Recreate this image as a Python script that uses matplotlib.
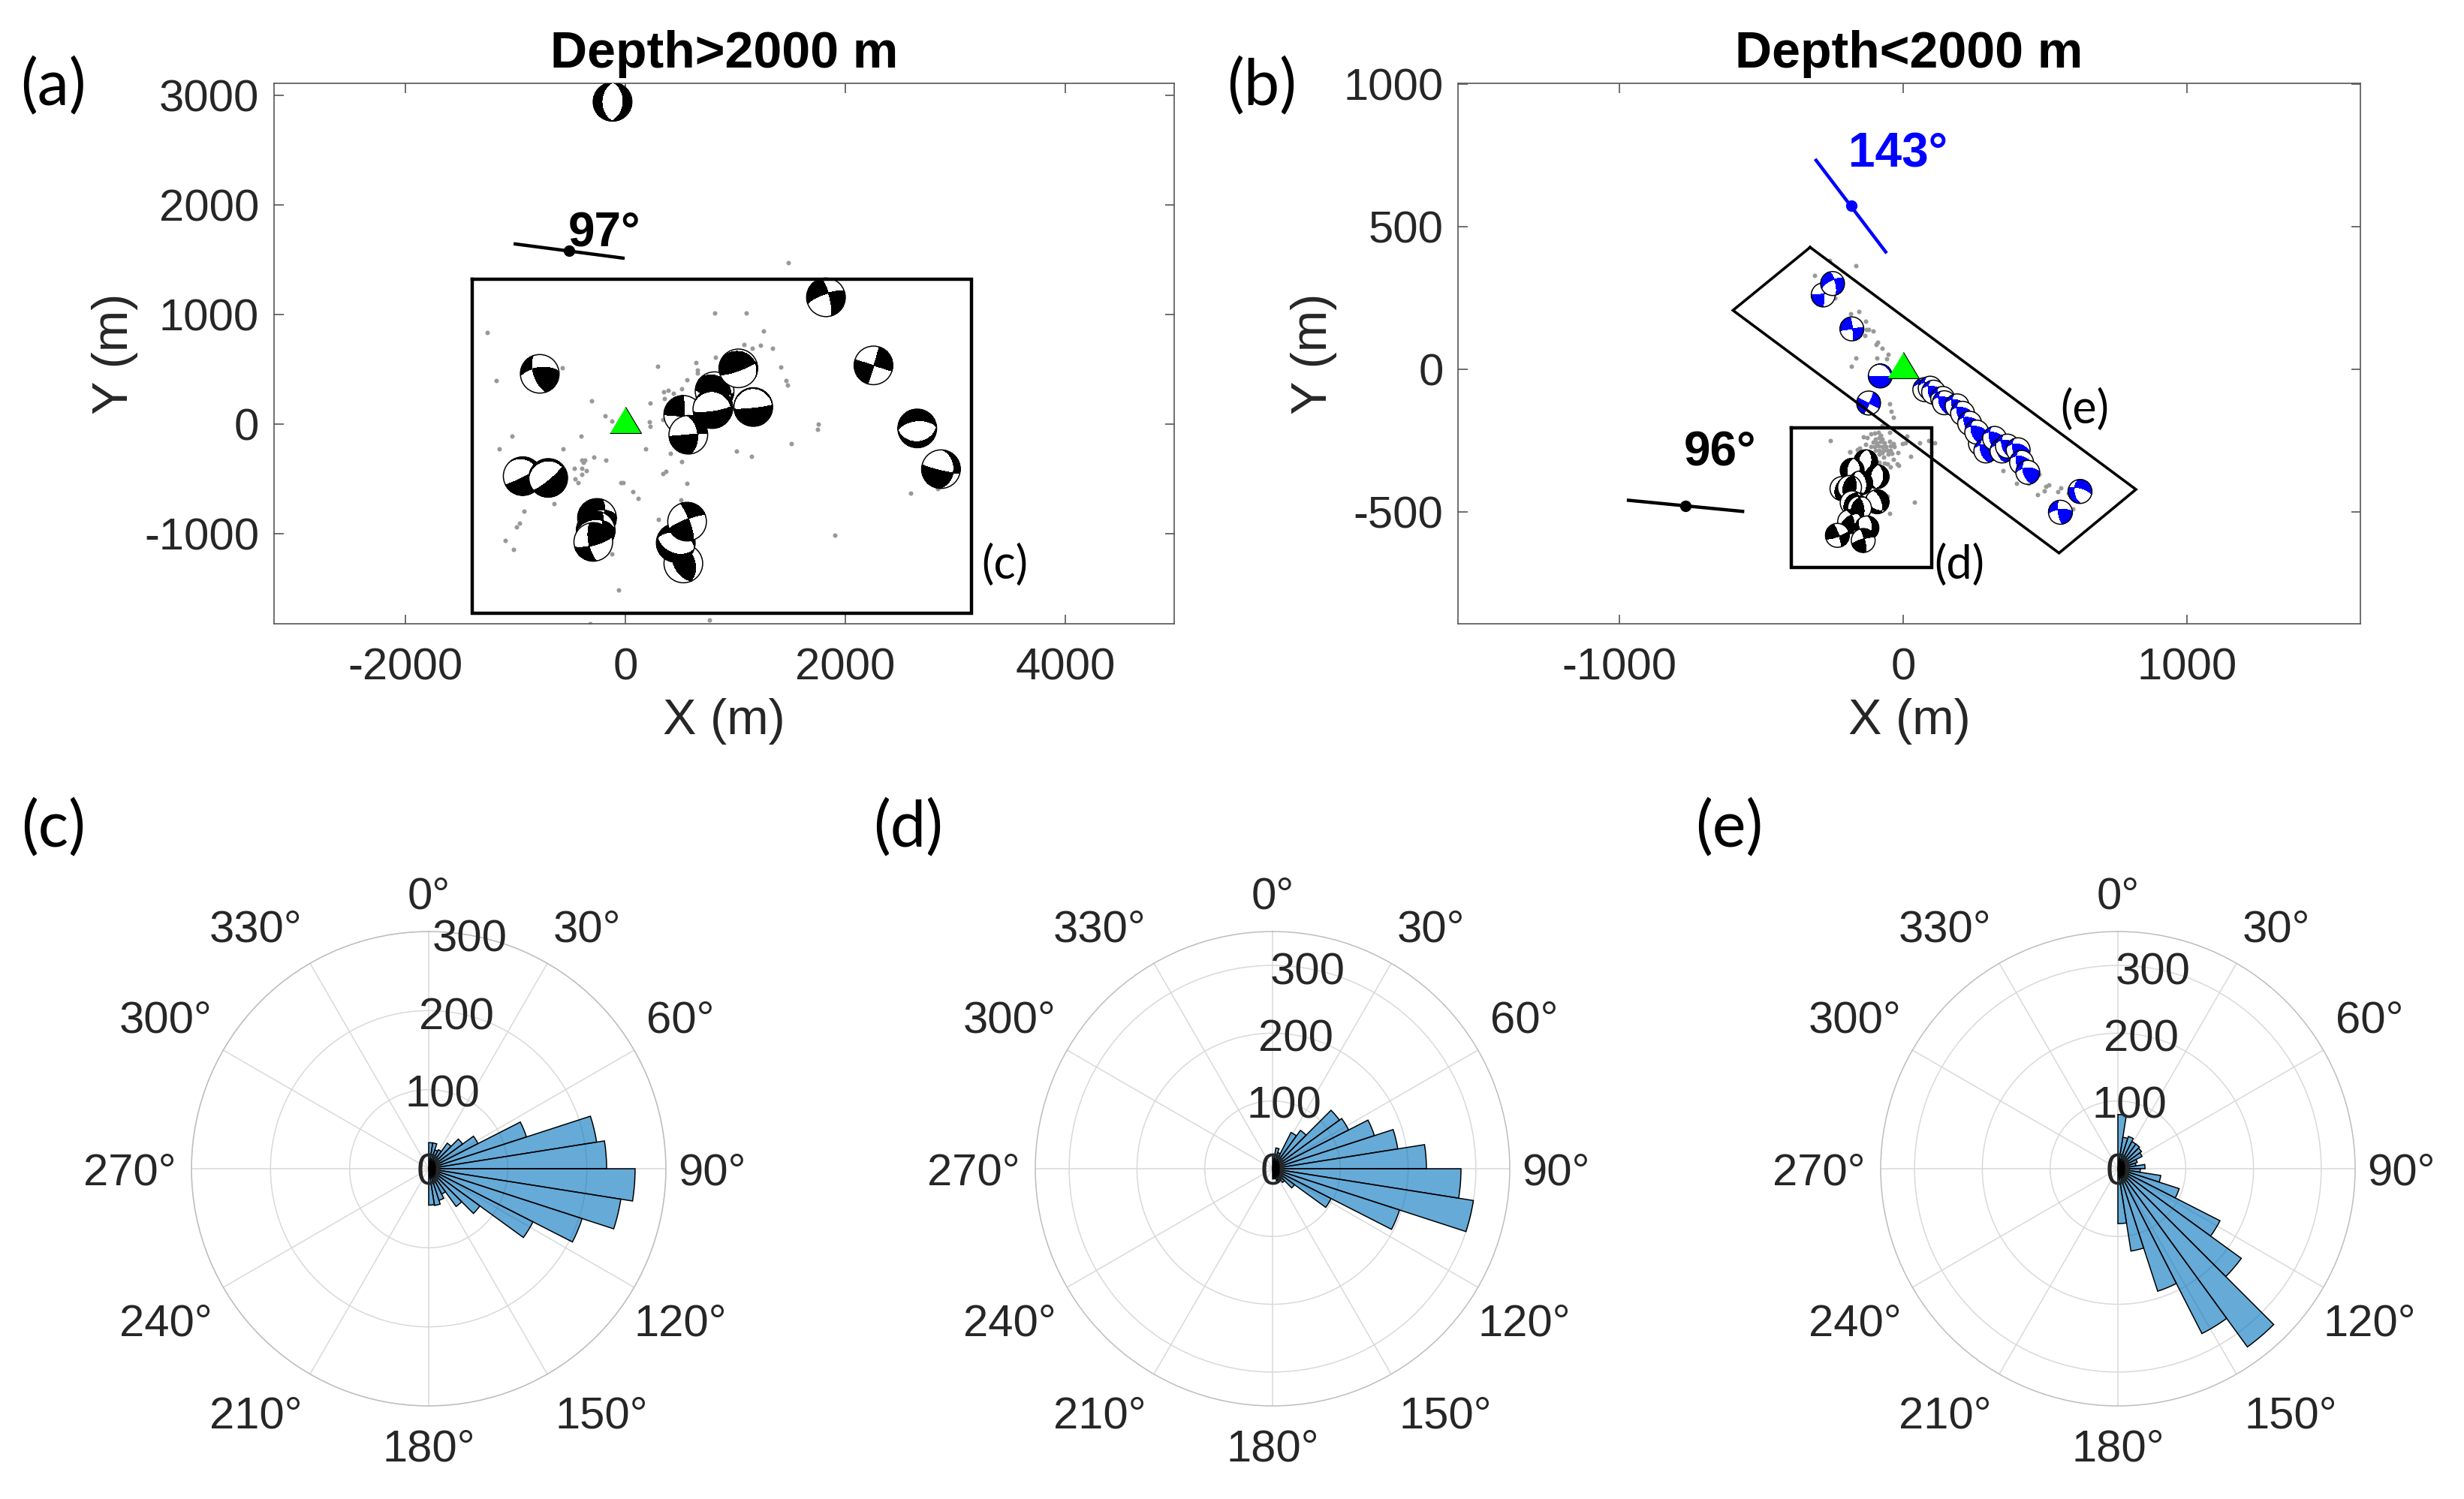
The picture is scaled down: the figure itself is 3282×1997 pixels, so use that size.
import numpy as np
import matplotlib
matplotlib.use('Agg')
import matplotlib.pyplot as plt
from matplotlib.patches import Circle

W, H = 3282, 1997
plt.rcParams['font.family'] = ['Liberation Sans', 'DejaVu Sans']
plt.rcParams['axes.unicode_minus'] = False

# ----- events: x, y, strike, dip, rake (back to front)
deep_x = [-118, -935, -703, -259, -271, -293, 526, 457, 560, 525, 571, 810, 1026, 800, 790, 1162, 1823, 2255, 2653, 2869, -780]
deep_y = [2941, -475, -491, -856, -970, -1075, -1272, -1084, -890, 85, -97, 301, 509, 150, 137, 156, 1157, 536, -39, -411, 459]
deep_s = [3, 63, 50, 15, 20, 170, 340, 110, 340, 0, 355, 95, 70, 82, 82, 84, 345, 17, 85, 5, 160]
deep_d = [45, 85, 80, 60, 70, 70, 40, 45, 80, 85, 50, 70, 80, 80, 80, 85, 75, 88, 32, 35, 65]
deep_r = [-88, -105, -98, -140, -130, 15, 95, -85, 10, 175, 0, 75, 80, -95, -95, -92, -165, 0, -90, -10, 150]

gray_a_x = [-1258, -574, -1176, -305, 291, 641, 653, 653, 819, 1078, 1151, 1228, 557, 509, 346, 391, 439, 352, 223, -187,
            -121, 214, 225, 341, -403, -1033, -1145, -571, 182, 409, 1010, 1149, 509, -291, -182, -396, -371, -385, -467, -396,
            -353, -398, -460, -428, 366, 341, -44, -25, 559, 68, 116, 507, -651, -924, 302, -967, -988, -1092, -1017, -123,
            -66, -321, 762, 812, 1097, 1256, 1338, 1411, 1463, 1474, 1754, 1747, 1509, 1907, 2591, 2842, 1481]
gray_a_y = [835, 514, 397, 212, 530, 559, 491, 463, 612, 728, 692, 721, 402, 324, 294, 306, 278, 235, 189, 73,
            25, 18, -23, 41, -107, -112, -224, -224, -226, -265, -249, -297, -340, -304, -331, -327, -331, -347, -404, -404,
            -422, -457, -498, -532, -429, -450, -532, -532, -543, -614, -676, -690, -726, -792, -870, -902, -938, -1064, -1144, -1183,
            -1516, -1822, -1790, 1011, 1014, 847, 694, 518, 400, 356, -1, -50, -176, -1014, -630, -587, 1473]

shallow_x = [-132, -180, -92, -216, -150, -189, -92, -180, -154, -189, -128, -232, -141]
shallow_y = [-324, -354, -376, -418, -398, -414, -464, -468, -486, -534, -556, -582, -600]
shallow_s = [10, 10, 5, 15, 350, 15, 340, 20, 350, 345, 5, 340, 345]
shallow_d = [50, 35, 45, 45, 50, 45, 60, 50, 60, 60, 55, 80, 80]
shallow_r = [-85, -85, -90, 85, -80, 90, -70, 80, 70, 40, -60, 170, 10]

band_x = [-282, -249, -181, -81, -122, 76, 95, 107, 139, 145, 190, 209, 234, 272, 259, 291, 322, 348, 367, 405, 417, 439, 623, 554]
band_y = [261, 301, 142, -23, -118, -71, -66, -80, -102, -117, -128, -154, -189, -260, -220, -286, -242, -286, -269, -282, -326, -361, -428, -501]
band_s = [0, 345, 352, 90, 25, 160, 160, 165, 160, 160, 165, 160, 160, 165, 160, 160, 165, 160, 160, 160, 165, 160, 175, 170]
band_d = [85, 70, 85, 85, 85, 55, 55, 55, 55, 55, 55, 55, 55, 55, 55, 55, 55, 55, 55, 55, 55, 60, 50, 75]
band_r = [5, -155, 180, -100, 0, 130, 130, 130, 130, 130, 130, 130, 130, 130, 130, 130, 130, 130, 130, 130, 130, 145, -30, 160]

gray_b_x = [-260, -166, -312, -242, -186, -156, -132, -131, -121, -106, -135, -90, -96, -73, -53, -93, -59, -166, -182, -48,
            -42, -34, -75, -48, 13, 57, 89, 111, -2, 7, -257, -188, 25, -19, 353,
            -141, -128, -115, -101, -88, -79, -97, -84, -73, -106, -92, -79, -66, -48, -35, -115, -101, -88, -75, -62,
            -44, -31, -132, -97, -84, -70, -57, -44, -40, -53, -75, -85, -154, -161, -70, -84, -66, -55, -44, -35, -17, -22,
            -187, 40, -48, -55, 398, 441, 474, 497, 503, 512, 545, 556, 479, 582, 598]
gray_b_y = [382, 363, 329, 249, 196, 202, 168, 139, 139, 134, 118, 95, 86, 74, 54, 41, 36, 40, 11, -122,
            -146, -169, -196, -221, -233, -258, -250, -259, -260, -258, -250, -289, -306, -293, -356,
            -237, -238, -227, -224, -221, -231, -245, -240, -245, -256, -258, -253, -258, -253, -260, -271, -271, -268, -271, -271,
            -267, -271, -262, -284, -284, -284, -284, -284, -295, -297, -293, -297, -275, -282, -309, -326, -328, -332, -341, -315, -337, -332,
            -290, -466, -504, -444, -399, -399, -439, -425, -411, -405, -430, -416, -367, -435, -489]

# ----- strike lines and boxes
line97_x, line97_y = [-1003, -23], [1644, 1515]
dot97_x, dot97_y = [-513], [1580]
line96_x, line96_y = [-968, -566], [-459, -498]
dot96_x, dot96_y = [-768], [-479]
line143_x, line143_y = [-307, -62], [733, 412]
dot143_x, dot143_y = [-184], [574]
box_c_x = [-1392, 3147, 3147, -1392, -1392]
box_c_y = [1320, 1320, -1728, -1728, 1320]
box_d_x = [-395, 100, 100, -395, -395]
box_d_y = [-205, -205, -695, -695, -205]
box_e_x = [-328, 820, 549, -600, -328]
box_e_y = [428, -421, -644, 207, 428]

# ----- rose histograms, counts in 9 degree bins from 0 to 180
bin_edges = np.arange(0, 180, 9)
rose_c = [33, 33, 25, 27, 40, 53, 70, 130, 215, 225, 261, 246, 204, 148, 80, 59, 36, 42, 47, 46]
rose_d = [20, 31, 25, 60, 70, 122, 126, 158, 187, 227, 278, 300, 197, 97, 40, 25, 20, 18, 15, 15]
rose_e = [80, 47, 50, 45, 45, 43, 40, 30, 27, 40, 33, 64, 95, 169, 225, 325, 273, 190, 123, 81]
r_ticks = [0, 100, 200, 300]
theta_labels = ['0°', '30°', '60°', '90°', '120°', '150°', '180°', '210°', '240°', '270°', '300°', '330°']
label_dx = [0, 211, 335, 377, 335, 230, 0, -230, -350, -398, -350, -230]
label_dy = [368, 324, 203, 0, -201, -324, -368, -324, -201, 0, 203, 324]

rho, az = np.meshgrid(np.linspace(0, 1, 80), np.radians(np.linspace(0, 360, 361)))
inc = 2 * np.arcsin(rho / np.sqrt(2))
pn, pe, pd = np.sin(inc) * np.cos(az), np.sin(inc) * np.sin(az), np.cos(inc)


def beachball(ax, x, y, strike, dip, rake, radius, color, z):
    s, d, r = np.radians(strike), np.radians(dip), np.radians(rake)
    n = (-np.sin(d) * np.sin(s), np.sin(d) * np.cos(s), -np.cos(d))
    u = (np.cos(r) * np.cos(s) + np.cos(d) * np.sin(r) * np.sin(s),
         np.cos(r) * np.sin(s) - np.cos(d) * np.sin(r) * np.cos(s),
         -np.sin(r) * np.sin(d))
    amp = (pn * n[0] + pe * n[1] + pd * n[2]) * (pn * u[0] + pe * u[1] + pd * u[2])
    ax.add_patch(Circle((x, y), radius, fc='white', ec='none', zorder=z))
    ax.contourf(x + radius * rho * np.sin(az), y + radius * rho * np.cos(az), amp,
                levels=[0, 10], colors=[color], zorder=z + 0.1)
    ax.add_patch(Circle((x, y), radius, fc='none', ec='black', lw=1.1, zorder=z + 0.2))


def map_axes(px):
    ax = fig.add_axes([px[0] / W, 1 - px[3] / H, (px[1] - px[0]) / W, (px[3] - px[2]) / H])
    for sp in ax.spines.values():
        sp.set_color('#555555')
        sp.set_linewidth(1.2)
    ax.tick_params(direction='in', length=9, width=1.2, color='#555555', top=True, right=True,
                   labelsize=43, labelcolor='#262626')
    return ax


fig = plt.figure(figsize=(W / 100, H / 100), dpi=100)
tri = [(-1, -0.57), (1, -0.57), (0, 1.1)]

# (a)
ax = map_axes((364.5, 1564, 111, 831))
ax.scatter(gray_a_x, gray_a_y, s=19, color='#999999', lw=0, zorder=2)
for i in range(len(deep_x)):
    beachball(ax, deep_x[i], deep_y[i], deep_s[i], deep_d[i], deep_r[i], 176, 'black', 3 + i)
ax.plot(box_c_x, box_c_y, color='black', lw=3.2, solid_joinstyle='miter', zorder=50)
ax.plot(line97_x, line97_y, color='black', lw=3.2, zorder=50)
ax.plot(dot97_x, dot97_y, 'o', color='black', ms=10, zorder=50)
ax.plot([0], [0], marker=tri, ms=33.3, mfc='#00ff00', mec='black', mew=0.8, zorder=51, ls='none')
ax.text(-190, 1780, '97°', fontweight='bold', fontsize=46, ha='center', va='center_baseline', zorder=60)
ax.set_xlim(-3200, 4990)
ax.set_ylim(-1822, 3110)
ax.set_xticks([-2000, 0, 2000, 4000])
ax.set_yticks([-1000, 0, 1000, 2000, 3000])
ax.tick_params(axis='x', pad=23)
ax.tick_params(axis='y', pad=14)
ax.set_xlabel('X (m)', fontsize=48, color='#262626', labelpad=9)
ax.set_ylabel('Y (m)', fontsize=48, color='#262626', labelpad=6)
ax.set_title('Depth>2000 m', fontsize=49, fontweight='bold', pad=15)

# (b)
ax = map_axes((1942, 3144, 111, 831))
ax.scatter(gray_b_x, gray_b_y, s=19, color='#999999', lw=0, zorder=2)
for i in range(len(shallow_x)):
    beachball(ax, shallow_x[i], shallow_y[i], shallow_s[i], shallow_d[i], shallow_r[i], 42, 'black', 3 + i)
for i in range(len(band_x)):
    beachball(ax, band_x[i], band_y[i], band_s[i], band_d[i], band_r[i], 42, '#0000ff', 20 + i)
ax.plot(box_d_x, box_d_y, color='black', lw=3.2, solid_joinstyle='miter', zorder=50)
ax.plot(box_e_x, box_e_y, color='black', lw=2.6, solid_joinstyle='miter', zorder=50)
ax.plot(line96_x, line96_y, color='black', lw=3.2, zorder=50)
ax.plot(dot96_x, dot96_y, 'o', color='black', ms=10, zorder=50)
ax.plot(line143_x, line143_y, color='#0000ff', lw=3.2, zorder=50)
ax.plot(dot143_x, dot143_y, 'o', color='#0000ff', ms=10, zorder=50)
ax.plot([0], [0], marker=tri, ms=33.3, mfc='#00ff00', mec='black', mew=0.8, zorder=51, ls='none')
ax.text(-645, -276, '96°', fontweight='bold', fontsize=46, ha='center', va='center_baseline', zorder=60)
ax.text(-18, 771, '143°', fontweight='bold', fontsize=46, color='#0000ff', ha='center', va='center_baseline', zorder=60)
ax.set_xlim(-1569, 1611)
ax.set_ylim(-892, 1003)
ax.set_xticks([-1000, 0, 1000])
ax.set_yticks([-500, 0, 500, 1000])
ax.tick_params(axis='x', pad=23)
ax.tick_params(axis='y', pad=14)
ax.set_xlabel('X (m)', fontsize=48, color='#262626', labelpad=9)
ax.set_ylabel('Y (m)', fontsize=48, color='#262626', labelpad=6)
ax.set_title('Depth<2000 m', fontsize=49, fontweight='bold', pad=15)

# (c), (d), (e)
for cx, counts, rmax in [(571, rose_c, 300), (1695, rose_d, 350), (2821, rose_e, 350)]:
    ax = fig.add_axes([(cx - 316) / W, 1 - (1557 + 316) / H, 632 / W, 632 / H], projection='polar')
    ax.set_theta_zero_location('N')
    ax.set_theta_direction(-1)
    ax.bar(np.radians(bin_edges), counts, width=np.radians(9), align='edge',
           color=(0, 0.447, 0.741, 0.6), edgecolor='black', linewidth=1.1, zorder=3)
    ax.set_rlim(0, rmax)
    ax.set_rticks(r_ticks[1:])
    ax.set_yticklabels([])
    ax.set_thetagrids(np.arange(0, 360, 30), [])
    ax.grid(color='#d9d9d9', lw=1.1)
    ax.spines['polar'].set_color('#bdbdbd')
    ax.spines['polar'].set_linewidth(1.1)
    ax.set_axisbelow(True)
    for rv in r_ticks:
        ax.text(np.radians(10), rv, str(rv), fontsize=43, color='#262626', ha='center', va='center_baseline', zorder=5)
    for lab, dx, dy in zip(theta_labels, label_dx, label_dy):
        fig.text((cx + dx) / W, 1 - (1557 - dy) / H, lab, fontsize=43, color='#262626', ha='center', va='center_baseline')

# panel letters
for lab, x, y, size in [('(a)', 71, 115, 61), ('(b)', 1681, 115, 61), ('(c)', 71, 1103, 61), ('(d)', 1210, 1103, 61),
                        ('(e)', 2303, 1103, 61), ('(c)', 1338, 753, 44), ('(d)', 2610, 753, 44), ('(e)', 2777, 546, 44)]:
    fig.text(x / W, 1 - y / H, lab, family='Lato', fontsize=size, ha='center', va='center', color='black')

fig.savefig('out.png', dpi=100)
